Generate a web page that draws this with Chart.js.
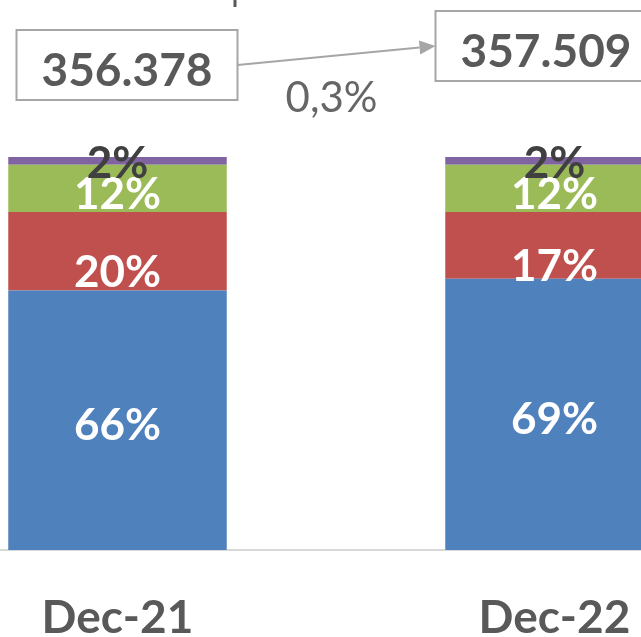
<!DOCTYPE html>
<html>
<head>
<meta charset="utf-8">
<script src="https://cdn.jsdelivr.net/npm/chart.js@4.4.1/dist/chart.umd.min.js"></script>
<style>
    html, body { margin: 0; padding: 0; background: #fff; overflow: hidden; }
    body { width: 641px; height: 637px; position: relative; }
    #wrap { position: absolute; left: -101px; top: 0; width: 874px; height: 705px; }
</style>
</head>
<body>
<div id="wrap"><canvas id="chart" width="874" height="705"></canvas></div>
<script>
// Chart data
const categories = ['Dec-21', 'Dec-22'];
const blueShare = [66, 69];
const redShare = [20, 17];
const greenShare = [12, 12];
const purpleShare = [2, 2];
const totals = [356378, 357509];

const grey = '#595959';
const fontFamily = 'Lato, "Open Sans", sans-serif';

// format 356378 -> 356.378
const fmtTotal = v => String(v).replace(/\B(?=(\d{3})+(?!\d))/g, '.');
const change = (totals[1] - totals[0]) / totals[0] * 100;
const changeText = change.toFixed(1).replace('.', ',') + '%';

// Percent labels inside the segments
const segmentLabels = {
    id: 'segmentLabels',
    afterDatasetsDraw(chart) {
        const ctx = chart.ctx;
        const extra = [4, 20, 5, 1];
        ctx.save();
        ctx.font = 'bold 44px ' + fontFamily;
        ctx.textAlign = 'center';
        ctx.textBaseline = 'alphabetic';
        chart.data.datasets.forEach((ds, di) => {
            const meta = chart.getDatasetMeta(di);
            meta.data.forEach((el, i) => {
                const mid = (el.y + el.base) / 2;
                ctx.fillStyle = di === 3 ? '#404040' : '#ffffff';
                ctx.fillText(ds.data[i] + '%', el.x, mid + 16 + extra[di]);
            });
        });
        ctx.restore();
    }
};

// Totals boxes and the arrow between them
const totalBoxes = {
    id: 'totalBoxes',
    afterDraw(chart) {
        const ctx = chart.ctx;
        const xs = chart.scales.x;
        const c0 = xs.getPixelForValue(0);
        const c1 = xs.getPixelForValue(1);
        const boxW = 221, boxH = 70;
        const boxes = [
            { cx: c0 + 9.5, top: 30 },
            { cx: c1 - 8.5, top: 11 }
        ];
        ctx.save();
        ctx.strokeStyle = '#a6a6a6';
        ctx.lineWidth = 2;
        boxes.forEach((b, i) => {
            ctx.fillStyle = '#fff';
            ctx.fillRect(b.cx - boxW / 2, b.top, boxW, boxH);
            ctx.strokeRect(b.cx - boxW / 2, b.top, boxW, boxH);
            ctx.fillStyle = grey;
            ctx.font = 'bold 46px ' + fontFamily;
            ctx.textAlign = 'center';
            ctx.textBaseline = 'alphabetic';
            ctx.fillText(fmtTotal(totals[i]), b.cx, b.top + 56);
        });

        // arrow
        const x1 = boxes[0].cx + boxW / 2, y1 = 65;
        const x2 = boxes[1].cx - boxW / 2, y2 = 46;
        const ang = Math.atan2(y2 - y1, x2 - x1);
        const headLen = 16, headW = 7;
        ctx.beginPath();
        ctx.moveTo(x1, y1);
        ctx.lineTo(x2 - headLen * Math.cos(ang), y2 - headLen * Math.sin(ang));
        ctx.stroke();
        ctx.fillStyle = '#a6a6a6';
        ctx.beginPath();
        ctx.moveTo(x2, y2);
        ctx.lineTo(x2 - headLen * Math.cos(ang) + headW * Math.sin(ang), y2 - headLen * Math.sin(ang) - headW * Math.cos(ang));
        ctx.lineTo(x2 - headLen * Math.cos(ang) - headW * Math.sin(ang), y2 - headLen * Math.sin(ang) + headW * Math.cos(ang));
        ctx.closePath();
        ctx.fill();

        // change text
        ctx.fillStyle = '#666666';
        ctx.font = '42px ' + fontFamily;
        ctx.textAlign = 'center';
        ctx.fillText(changeText, c0 + 214, 112);

        // bit of a cut-off title at the top edge
        ctx.fillStyle = grey;
        ctx.fillRect(c0 + 116, 0, 3, 7);
        ctx.restore();
    }
};

const ctx = document.getElementById('chart').getContext('2d');
new Chart(ctx, {
    type: 'bar',
    data: {
        labels: categories,
        datasets: [
            { label: 'A', data: blueShare, backgroundColor: '#4f81bd' },
            { label: 'B', data: redShare, backgroundColor: '#c0504d' },
            { label: 'C', data: greenShare, backgroundColor: '#9bbb59' },
            { label: 'D', data: purpleShare, backgroundColor: '#8064a2' }
        ]
    },
    options: {
        responsive: false,
        animation: false,
        events: [],
        layout: { padding: { top: 157, bottom: 19, left: 0, right: 0 } },
        datasets: {
            bar: { categoryPercentage: 1, barPercentage: 0.5 }
        },
        plugins: {
            legend: { display: false },
            tooltip: { enabled: false }
        },
        scales: {
            x: {
                stacked: true,
                grid: { display: false, drawTicks: false },
                border: { display: true, color: '#d9d9d9', width: 2 },
                ticks: {
                    color: grey,
                    padding: 45,
                    font: { family: fontFamily, size: 46, weight: 'bold', lineHeight: 1 }
                }
            },
            y: {
                stacked: true,
                display: false,
                min: 0,
                max: 100
            }
        }
    },
    plugins: [segmentLabels, totalBoxes]
});
</script>
</body>
</html>
